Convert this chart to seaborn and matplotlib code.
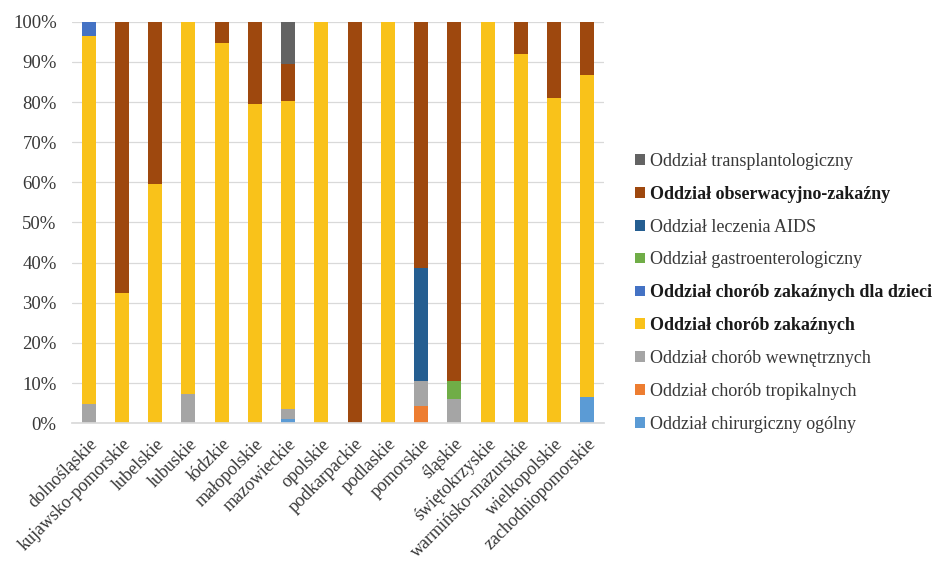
import numpy as np
import pandas as pd
import matplotlib
matplotlib.use("Agg")
import matplotlib.pyplot as plt
import seaborn as sns
from matplotlib.ticker import PercentFormatter
from matplotlib.patches import Patch
from matplotlib.transforms import ScaledTranslation

# Voivodeships
regions = ["dolnośląskie", "kujawsko-pomorskie", "lubelskie", "lubuskie", "łódzkie",
           "małopolskie", "mazowieckie", "opolskie", "podkarpackie", "podlaskie",
           "pomorskie", "śląskie", "świętokrzyskie", "warmińsko-mazurskie",
           "wielkopolskie", "zachodniopomorskie"]

# Share of hospital ward types per voivodeship (%), bottom to top of the stack
chirurgiczny = [0, 0, 0, 0, 0, 0, 1.0, 0, 0, 0, 0, 0, 0, 0, 0, 6.6]
tropikalnych = [0, 0, 0, 0, 0, 0, 0, 0, 0, 0, 4.4, 0, 0, 0, 0, 0]
wewnetrznych = [4.8, 0, 0, 7.2, 0, 0, 2.6, 0, 0, 0, 6.1, 6.0, 0, 0, 0, 0]
zakaznych = [91.7, 32.4, 59.7, 92.8, 94.6, 79.6, 76.7, 100, 0, 100, 0, 0, 100, 92.0, 81.1, 80.1]
dzieci = [3.5, 0, 0, 0, 0, 0, 0, 0, 0, 0, 0, 0, 0, 0, 0, 0]
gastro = [0, 0, 0, 0, 0, 0, 0, 0, 0, 0, 0, 4.5, 0, 0, 0, 0]
aids = [0, 0, 0, 0, 0, 0, 0, 0, 0, 0, 28.1, 0, 0, 0, 0, 0]
obserwacyjno = [0, 67.6, 40.3, 0, 5.4, 20.4, 9.2, 0, 100, 0, 61.4, 89.5, 0, 8.0, 18.9, 13.3]
transplant = [0, 0, 0, 0, 0, 0, 10.5, 0, 0, 0, 0, 0, 0, 0, 0, 0]

series_labels = ["Oddział chirurgiczny ogólny", "Oddział chorób tropikalnych",
                 "Oddział chorób wewnętrznych", "Oddział chorób zakaźnych",
                 "Oddział chorób zakaźnych dla dzieci", "Oddział gastroenterologiczny",
                 "Oddział leczenia AIDS", "Oddział obserwacyjno-zakaźny",
                 "Oddział transplantologiczny"]
series_values = [chirurgiczny, tropikalnych, wewnetrznych, zakaznych, dzieci,
                 gastro, aids, obserwacyjno, transplant]
colors = ["#5B9BD5", "#ED7D31", "#A5A5A5", "#F9C21A", "#4472C4",
          "#70AD47", "#255E91", "#9E480E", "#636363"]
bold_labels = {"Oddział obserwacyjno-zakaźny", "Oddział chorób zakaźnych dla dzieci",
               "Oddział chorób zakaźnych"}

sns.set_theme(style="white")
plt.rcParams["font.family"] = ["Liberation Serif", "DejaVu Serif"]

fig = plt.figure(figsize=(9.4, 5.62), dpi=100)
ax = fig.add_axes([0.0766, 0.2468, 0.566, 0.7146])

# Stack by drawing cumulative totals from the top layer down
vals = np.array(series_values, dtype=float)
cum = np.cumsum(vals, axis=0)
for i in range(len(series_labels) - 1, -1, -1):
    df = pd.DataFrame({"region": regions, "value": cum[i]})
    sns.barplot(data=df, x="region", y="value", color=colors[i], width=0.42,
                saturation=1, ax=ax, linewidth=0, errorbar=None)

ax.set_ylim(0, 100)
ax.set_xlim(-0.5, len(regions) - 0.5)
ax.set_yticks(np.arange(0, 101, 10))
ax.yaxis.set_major_formatter(PercentFormatter(decimals=0))
ax.yaxis.grid(True, color="#d9d9d9", linewidth=0.9)
ax.set_axisbelow(True)
for side in ["left", "right", "top"]:
    ax.spines[side].set_visible(False)
ax.spines["bottom"].set_color("#d9d9d9")
ax.set_xlabel("")
ax.set_ylabel("")
ax.tick_params(axis="y", length=0, labelsize=13.5, colors="#383838", pad=11)
ax.tick_params(axis="x", length=0, labelsize=13, colors="#383838", pad=6)
shift = ScaledTranslation(0.0, -0.04, fig.dpi_scale_trans)
for lbl in ax.get_xticklabels():
    lbl.set_rotation(45)
    lbl.set_ha("right")
    lbl.set_rotation_mode("anchor")
    lbl.set_transform(lbl.get_transform() + shift)

handles = [Patch(facecolor=c, edgecolor="none") for c in colors][::-1]
labels = series_labels[::-1]
leg = fig.legend(handles, labels, loc="upper left", bbox_to_anchor=(0.668, 0.741),
                 frameon=False, fontsize=13, handlelength=0.55, handleheight=0.55,
                 handletextpad=0.25, labelspacing=0.88, borderaxespad=0)
for t in leg.get_texts():
    t.set_color("#383838")
    if t.get_text() in bold_labels:
        t.set_fontweight("bold")
        t.set_color("#1a1a1a")

fig.savefig("out.png", dpi=100)
